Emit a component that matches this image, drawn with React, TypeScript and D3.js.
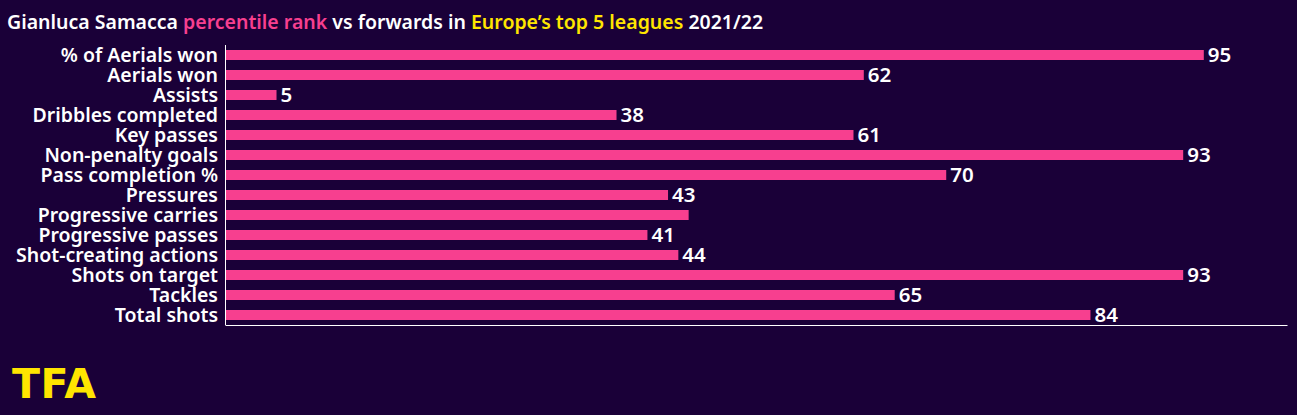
import { axisBottom, axisLeft, max, scaleBand, scaleLinear, select } from "d3";
import { useEffect, useRef } from "react";

const metrics = [
  "% of Aerials won",
  "Aerials won",
  "Assists",
  "Dribbles completed",
  "Key passes",
  "Non-penalty goals",
  "Pass completion %",
  "Pressures",
  "Progressive carries",
  "Progressive passes",
  "Shot-creating actions",
  "Shots on target",
  "Tackles",
  "Total shots",
];
const percentiles = [95, 62, 5, 38, 61, 93, 70, 43, 45, 41, 44, 93, 65, 84];
// the source chart leaves this bar without a label
const hideLabel = [false, false, false, false, false, false, false, false, true, false, false, false, false, false];

const BG = "#1a0038";
const PINK = "#f73f8f";
const YELLOW = "#ffe500";
const FONT = "Noto Sans, sans-serif";

export default function App() {
  const ref = useRef<SVGSVGElement>(null);
  const width = 1297;
  const height = 415;
  const marginTop = 45;
  const marginLeft = 225;
  const marginRight = 10;
  const plotBottom = 325;

  useEffect(() => {
    const svg = select(ref.current);
    svg.selectAll("*").remove();

    svg.append("rect").attr("width", width).attr("height", height).attr("fill", BG);

    const data = metrics.map((m, i) => ({ m, v: percentiles[i], hide: hideLabel[i] }));

    const x = scaleLinear()
      .domain([0, max(percentiles)! * 1.085])
      .range([marginLeft, width - marginRight]);

    const y = scaleBand()
      .domain(metrics)
      .range([marginTop, plotBottom])
      .paddingInner(0.5)
      .paddingOuter(0.25);

    // title
    const title = svg.append("text")
      .attr("x", 7)
      .attr("y", 29)
      .attr("font-family", FONT)
      .attr("font-weight", 600)
      .attr("font-size", 19.5)
      .attr("fill", "#fff");
    title.append("tspan").text("Gianluca Samacca ");
    title.append("tspan").attr("fill", PINK).text("percentile rank");
    title.append("tspan").text(" vs forwards in ");
    title.append("tspan").attr("fill", YELLOW).text("Europe’s top 5 leagues");
    title.append("tspan").text(" 2021/22");

    // bars
    svg.append("g")
      .selectAll("rect")
      .data(data)
      .join("rect")
        .attr("x", x(0))
        .attr("y", d => y(d.m)!)
        .attr("width", d => x(d.v) - x(0))
        .attr("height", y.bandwidth())
        .attr("fill", PINK);

    // value labels
    svg.append("g")
      .selectAll("text")
      .data(data.filter(d => !d.hide))
      .join("text")
        .attr("x", d => x(d.v) + 4)
        .attr("y", d => y(d.m)! + y.bandwidth() / 2)
        .attr("dy", "0.36em")
        .attr("font-family", FONT)
        .attr("font-weight", 600)
        .attr("font-size", 20.5)
        .attr("fill", "#fff")
        .text(d => d.v);

    // category axis
    svg.append("g")
      .attr("transform", `translate(${marginLeft},0)`)
      .call(axisLeft(y).tickSize(0).tickPadding(7).tickSizeOuter(0))
      .call(g => g.select(".domain").attr("stroke", "#fff").attr("d", `M0.5,${marginTop}V${plotBottom}`))
      .call(g => g.selectAll(".tick text")
        .attr("fill", "#fff")
        .attr("dy", "0.36em")
        .attr("font-family", FONT)
        .attr("font-weight", 600)
        .attr("font-size", 19.5));

    // baseline
    svg.append("g")
      .attr("transform", `translate(0,${plotBottom})`)
      .call(axisBottom(x).ticks(0).tickSize(0).tickFormat(() => ""))
      .call(g => g.select(".domain").attr("stroke", "#fff"));

    // logo
    svg.append("text")
      .attr("x", 12)
      .attr("y", 398)
      .attr("font-family", "DejaVu Sans, sans-serif")
      .attr("font-weight", 900)
      .attr("font-size", 41)
      .attr("letter-spacing", 0.5)
      .attr("fill", YELLOW)
      .text("TFA");
  }, []);

  return (
    <div style={{ position: "absolute", left: 0, top: 0 }}>
      <svg ref={ref} width={width} height={height} style={{ display: "block" }} />
    </div>
  );
}
